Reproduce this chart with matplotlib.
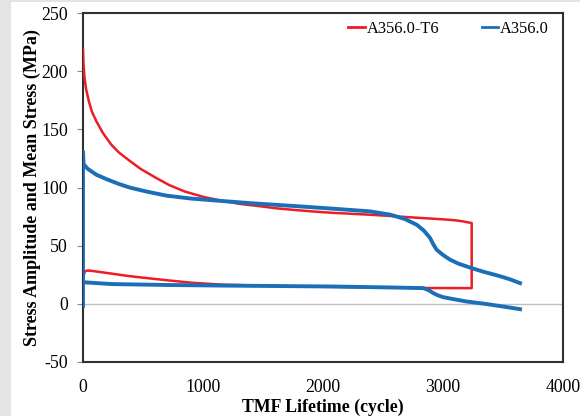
import matplotlib
matplotlib.use("Agg")
import matplotlib.pyplot as plt
from matplotlib.patches import Rectangle

# A356.0-T6 : stress amplitude (upper) then mean stress (lower), drawn as one trace
t6_amp_x = [0, 4, 12, 25, 49, 75, 111, 165, 234, 300, 388, 480, 603, 720, 850, 1000,
            1158, 1300, 1466, 1620, 1773, 1930, 2081, 2240, 2389, 2550, 2697, 2850,
            3005, 3100, 3160, 3210, 3239]
t6_amp_y = [219, 207, 195, 185, 174, 165, 157, 147, 137, 130, 123, 116, 108.6, 102, 96.5, 92,
            88.6, 86, 84, 82, 80.6, 79.3, 78.2, 77.4, 76.6, 75.6, 74.6, 73.6,
            72.6, 71.8, 71, 70, 69.5]
t6_mean_x = [3239, 3239, 2836, 2389, 1773, 1158, 900, 696, 500, 388, 250, 111, 60, 34, 15, 5, 0]
t6_mean_y = [69.5, 13.5, 13.6, 14.2, 14.9, 16.5, 18.2, 20.3, 22.5, 23.8, 25.8, 27.8, 28.5, 28.6, 27.8, 24, 20]

# A356.0 : stress amplitude and mean stress
a_amp_x = [0, 0, 5, 40, 111, 200, 300, 388, 530, 696, 900, 1158, 1400, 1773, 2081,
           2389, 2558, 2680, 2781, 2840, 2892, 2920, 2947, 3000, 3058, 3130, 3239,
           3340, 3467, 3560, 3642]
a_amp_y = [-2, 131, 120, 116, 111, 107, 103, 100, 96.5, 93, 90.5, 88.4, 86.5, 84, 81.8,
           79.5, 76.7, 73, 68, 63, 56.6, 51, 46.5, 42, 38, 34.5, 30.7,
           27.5, 24, 21, 17.8]
a_mean_x = [0, 234, 700, 1158, 1392, 2081, 2600, 2836, 2880, 2919, 2960, 3003, 3100, 3197,
            3350, 3500, 3642]
a_mean_y = [18.6, 17, 16.2, 15.7, 15.5, 14.9, 14, 13.5, 11.8, 9.2, 7.2, 5.7, 3.8, 2,
            0, -2.3, -4.6]

series_labels = ["A356.0-T6", "A356.0"]
x_ticks = [0, 1000, 2000, 3000, 4000]
y_ticks = [-50, 0, 50, 100, 150, 200, 250]

RED = "#ee1c25"
BLUE = "#1b6fb8"

plt.rcParams["font.family"] = ["Liberation Serif", "DejaVu Serif"]
plt.rcParams["axes.unicode_minus"] = False

fig = plt.figure(figsize=(5.8, 4.16), dpi=100, facecolor="#e4e4e4")
fig.patches.append(Rectangle((11 / 580, 0), 1, 414 / 416, transform=fig.transFigure,
                             facecolor="white", edgecolor="none", zorder=-10))

ax = fig.add_axes([83 / 580, 1 - 362 / 416, 480 / 580, 349 / 416])
ax.set_zorder(5)
ax.set_facecolor("white")

ax.axhline(0, color="#c0c0c0", lw=1, zorder=1)

ax.plot(t6_amp_x + t6_mean_x, t6_amp_y + t6_mean_y, color=RED, lw=1.8,
        label=series_labels[0], zorder=3)
ax.plot(a_amp_x, a_amp_y, color=BLUE, lw=2.8, label=series_labels[1], zorder=4,
        solid_joinstyle="round")
ax.plot(a_mean_x, a_mean_y, color=BLUE, lw=2.8, zorder=4, solid_joinstyle="round")

ax.set_xlim(0, 4000)
ax.set_ylim(-50, 250)
ax.set_xticks(x_ticks)
ax.set_yticks(y_ticks)
ax.tick_params(axis="x", length=0, labelsize=12.8, pad=12)
ax.tick_params(axis="y", length=4, color="#888888", labelsize=12.8, pad=7)

for sp in ax.spines.values():
    sp.set_color("#303030")
    sp.set_linewidth(1.5)

ax.set_xlabel("TMF Lifetime (cycle)", fontsize=12.8, fontweight="bold", labelpad=2)
ax.set_ylabel("Stress Amplitude and Mean Stress (MPa)", fontsize=13,
              fontweight="bold", labelpad=0)

leg = ax.legend(loc="upper right", ncol=2, frameon=False, fontsize=11.8,
                handlelength=1.0, handletextpad=0.1, columnspacing=2.6,
                bbox_to_anchor=(0.97, 0.978), borderaxespad=0, borderpad=0)
for line in leg.get_lines():
    line.set_linewidth(2)

fig.savefig("out.png", dpi=100, facecolor=fig.get_facecolor())
